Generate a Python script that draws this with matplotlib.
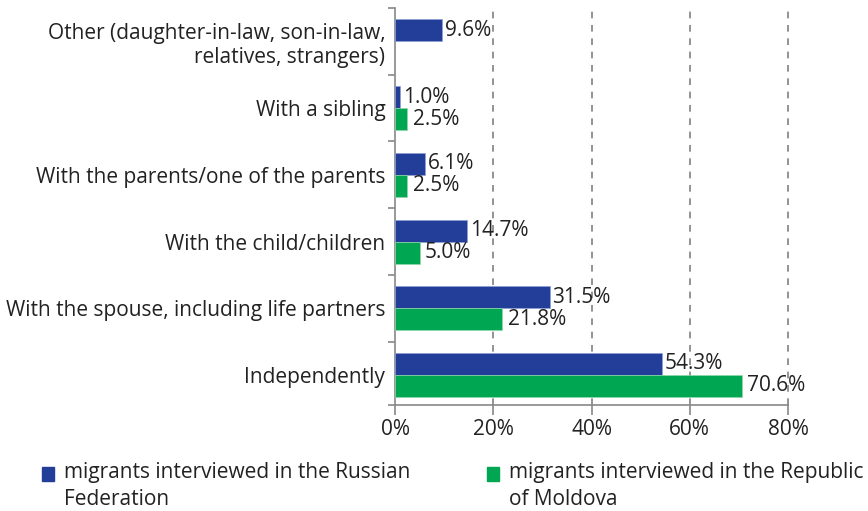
import numpy as np
import matplotlib
matplotlib.use("Agg")
import matplotlib.pyplot as plt
from matplotlib.patches import Rectangle
from matplotlib.ticker import FixedLocator

## data (bottom row first) ##
categories = [ "Independently",
               "With the spouse, including life partners",
               "With the child/children",
               "With the parents/one of the parents",
               "With a sibling",
               "Other (daughter-in-law, son-in-law,\nrelatives, strangers)" ]
russia = [ 54.3, 31.5, 14.7, 6.1, 1.0, 9.6 ]
moldova = [ 70.6, 21.8, 5.0, 2.5, 2.5, np.nan ]
xticks = [ 0, 20, 40, 60, 80 ]
series_names = [ "migrants interviewed in the Russian\nFederation",
                 "migrants interviewed in the Republic\nof Moldova" ]

blue = "#233E99"
green = "#00A651"
txt = "#222222"
axcol = "#888888"

plt.rcParams[ "font.family" ] = [ "Open Sans", "DejaVu Sans" ]
fs = 15

fig = plt.figure( figsize=( 8.68, 5.11 ), dpi=100 )
ax = fig.add_axes( [ 395 / 868, 1 - 405 / 511, 393 / 868, 397 / 511 ] )

y = np.arange( len( categories ) )
h = 0.33
ax.barh( y + h / 2, russia, height=h, color=blue, edgecolor="#8fa0d8", linewidth=0.5, zorder=3 )
ax.barh( y - h / 2, moldova, height=h, color=green, edgecolor="#8fd8aa", linewidth=0.5, zorder=3 )

for i in range( len( categories ) ):
    ax.annotate( f"{russia[ i ]:.1f}%", ( russia[ i ], y[ i ] + h / 2 ), xytext=( 2, 0 ),
                 textcoords="offset points", va="center", ha="left", fontsize=fs, color=txt, zorder=4 )
    if not np.isnan( moldova[ i ] ):
        ax.annotate( f"{moldova[ i ]:.1f}%", ( moldova[ i ], y[ i ] - h / 2 ), xytext=( 4, 0 ),
                     textcoords="offset points", va="center", ha="left", fontsize=fs, color=txt, zorder=4 )

ylo = -0.45
ax.set_xlim( 0, 80 )
ax.set_ylim( ylo, 5.5 )
ax.set_xticks( xticks )
ax.set_xticklabels( [ f"{t}%" for t in xticks ], fontsize=fs, color=txt )
ax.set_yticks( y )
ax.set_yticklabels( categories, fontsize=fs, color=txt )
ax.yaxis.set_minor_locator( FixedLocator( [ ylo ] + list( np.arange( 0.5, 5.6, 1.0 ) ) ) )
ax.tick_params( axis="y", which="major", length=0, pad=7 )
ax.tick_params( axis="y", which="minor", length=5, color=axcol, width=1.2 )
ax.tick_params( axis="x", length=7, color=axcol, width=1.2, pad=3 )

for t in xticks[ 1: ]:
    ax.axvline( t, color="#808080", linestyle=( 0, ( 4, 4 ) ), linewidth=1.2, zorder=1, clip_on=False )

for s in [ "top", "right" ]:
    ax.spines[ s ].set_visible( False )
for s in [ "left", "bottom" ]:
    ax.spines[ s ].set_color( axcol )
    ax.spines[ s ].set_linewidth( 1.2 )

## legend drawn by hand so the square sits on the first line ##
for x0, col, name in [ ( 42, blue, series_names[ 0 ] ), ( 487, green, series_names[ 1 ] ) ]:
    fig.patches.append( Rectangle( ( x0 / 868, 1 - 481 / 511 ), 12 / 868, 14 / 511,
                                   transform=fig.transFigure, color=col ) )
    fig.text( ( x0 + 22 ) / 868, 1 - 486 / 511, name, fontsize=fs, color=txt,
              va="center", ha="left", linespacing=1.32 )

fig.savefig( "out.png", dpi=100 )
